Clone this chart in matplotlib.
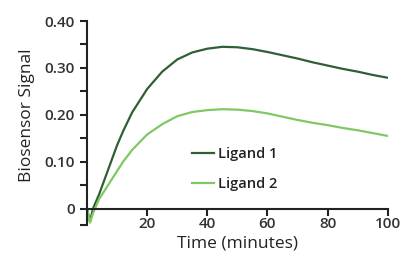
import matplotlib
matplotlib.use("Agg")
import matplotlib.pyplot as plt

time = [0, 1, 2, 4, 6, 8, 10, 12, 15, 18, 20, 25, 30, 35, 40, 45, 50, 55,
        60, 65, 70, 75, 80, 85, 90, 95, 100]
ligand1 = [0, -0.028, 0.0, 0.03, 0.065, 0.10, 0.135, 0.165, 0.205, 0.235, 0.255,
           0.292, 0.318, 0.333, 0.341, 0.345, 0.344, 0.340, 0.334, 0.327, 0.320,
           0.312, 0.305, 0.298, 0.292, 0.285, 0.279]
ligand2 = [0, -0.03, -0.01, 0.02, 0.04, 0.06, 0.08, 0.10, 0.125, 0.145, 0.158,
           0.18, 0.197, 0.206, 0.210, 0.212, 0.211, 0.208, 0.203, 0.196, 0.189,
           0.183, 0.178, 0.172, 0.167, 0.161, 0.155]
yticks = [0, 0.10, 0.20, 0.30, 0.40]
yticklabels = ["0", "0.10", "0.20", "0.30", "0.40"]
xticks = [20, 40, 60, 80, 100]

plt.rcParams['font.family'] = ['Open Sans', 'DejaVu Sans']
plt.rcParams['font.weight'] = 600
plt.rcParams['axes.labelweight'] = 500

fig = plt.figure(figsize=(4.17, 2.66), dpi=100)
ax = fig.add_axes([0.2086, 0.154, 0.7214, 0.767])

ax.plot(time, ligand1, color="#2f5f35", lw=1.6, label="Ligand 1")
ax.plot(time, ligand2, color="#80c864", lw=1.6, label="Ligand 2")

ax.set_xlim(0, 100)
ax.set_ylim(-0.035, 0.40)
ax.spines['top'].set_visible(False)
ax.spines['right'].set_visible(False)
ax.spines['bottom'].set_position(('data', 0))
for s in ('left', 'bottom'):
    ax.spines[s].set_linewidth(1.5)
    ax.spines[s].set_color("#222222")

ax.set_yticks(yticks)
ax.set_yticklabels(yticklabels)
ax.set_yticks([-0.035, 0.05, 0.15, 0.25, 0.35], minor=True)
ax.set_xticks(xticks)
ax.tick_params(axis='both', which='major', length=5, width=1.5, labelsize=11,
               color="#222222", labelcolor="#333333")
ax.tick_params(axis='y', which='minor', length=5, width=1.5, color="#222222")
ax.tick_params(axis='x', pad=1)

ax.set_xlabel("Time (minutes)", fontsize=12.5, color="#222222")
ax.xaxis.set_label_coords(0.5, -0.09)
ax.xaxis.label.set_va('center')
ax.set_ylabel("Biosensor Signal", fontsize=12.5, color="#222222")
ax.yaxis.set_label_coords(-0.2, 0.54)
ax.yaxis.label.set_va('center')

ax.legend(loc='center left', bbox_to_anchor=(0.305, 0.275), frameon=False,
          fontsize=10.5, handlelength=1.5, handletextpad=0.3, labelspacing=1.1,
          labelcolor="#222222")

fig.savefig("out.png", dpi=100)
